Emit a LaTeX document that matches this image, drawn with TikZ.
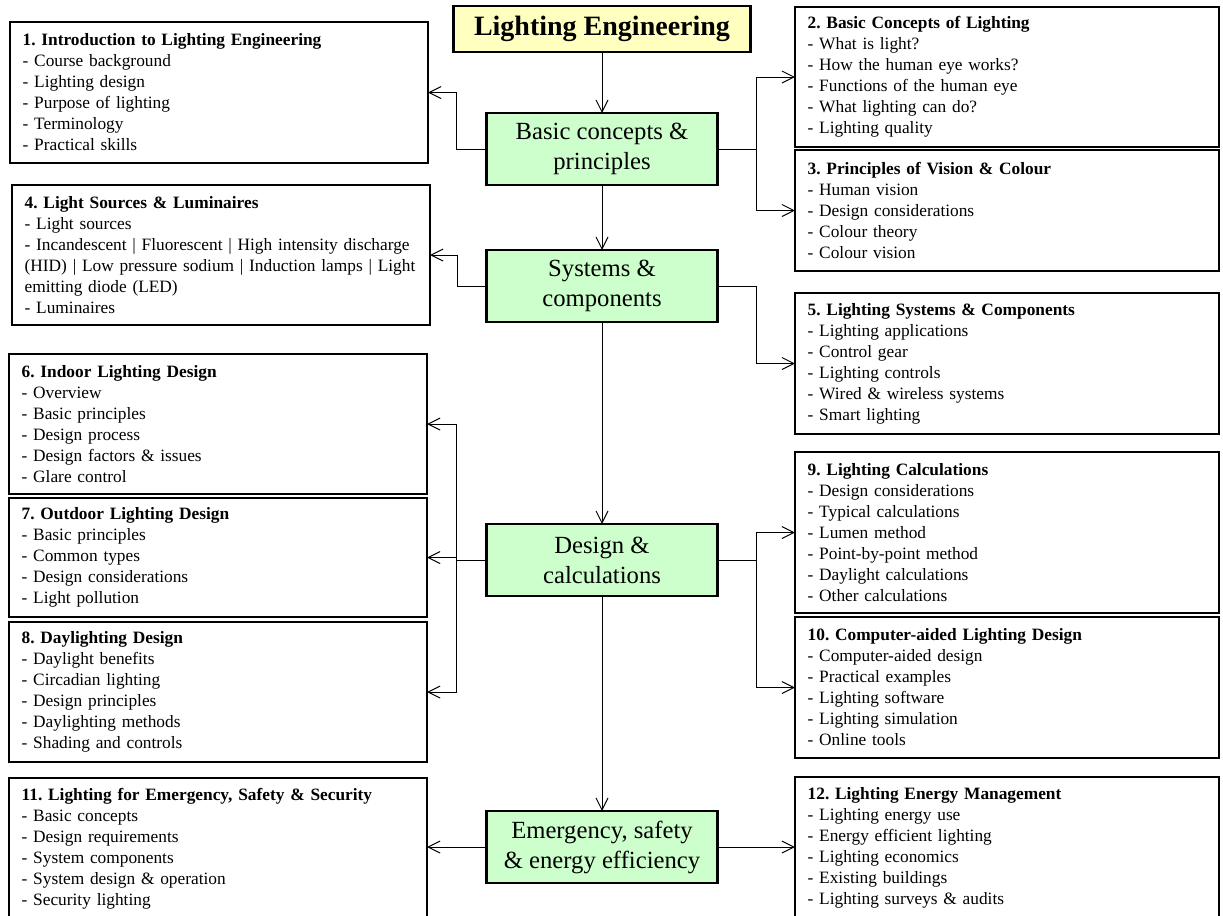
\documentclass[tikz,border=0pt]{standalone}
\usepackage{fontspec}
\setmainfont{Liberation Serif}
\usepackage{tikz}
\usetikzlibrary{positioning, arrows.meta}
\definecolor{titleyellow}{HTML}{FFFFC0}
\definecolor{topicgreen}{HTML}{CCFFCC}
\frenchspacing
\tikzset{
	maintitle/.style={draw, line width=2pt, outer sep=0pt, fill=titleyellow, minimum width=222.75pt, minimum height=34.5pt, font=\bfseries\fontsize{21}{25}\selectfont},
	topic/.style={draw, line width=2pt, outer sep=0pt, fill=topicgreen, align=center, minimum width=173.25pt, minimum height=54pt, font=\fontsize{18.5}{22.5}\selectfont},
	chapter/.style={draw, line width=2pt, outer sep=0pt, anchor=north west, align=left, inner xsep=9.5pt, inner ysep=3pt, text width=294.5pt, minimum height=#1*0.75pt, font=\fontsize{13}{15.75}\selectfont\frenchspacing},
	rchapter/.style={chapter=#1, text width=299pt},
	arr/.style={-{Straight Barb[length=9pt,width=9pt]}, line width=0.75pt}
}
\begin{document}
\begin{tikzpicture}[x=0.75pt, y=-0.75pt]
	\useasboundingbox (0,0) rectangle (1223,915);
	\node[maintitle] (title) at (602,29) {Lighting Engineering};
	\node[topic, below=45.75pt of title] (basic) {Basic concepts \&\\principles};
	\node[topic, below=48.75pt of basic] (sys) {Systems \&\\components};
	\node[topic, below=151.5pt of sys] (design) {Design \&\\calculations};
	\node[topic, below=161.25pt of design] (emerg) {Emergency, safety\\\& energy efficiency};

	\node[chapter=141] (c1) at (10,22) {\textbf{1. Introduction to Lighting Engineering}\\- Course background\\- Lighting design\\- Purpose of lighting\\- Terminology\\- Practical skills};
	\node[rchapter=140] (c2) at (795,7) {\textbf{2. Basic Concepts of Lighting}\\- What is light?\\- How the human eye works?\\- Functions of the human eye\\- What lighting can do?\\- Lighting quality};
	\node[rchapter=121] (c3) at (795,150) {\textbf{3. Principles of Vision \& Colour}\\- Human vision\\- Design considerations\\- Colour theory\\- Colour vision};
	\node[chapter=140] (c4) at (12,185) {\textbf{4. Light Sources \& Luminaires}\\- Light sources\\- Incandescent | Fluorescent | High intensity discharge\\(HID) | Low pressure sodium | Induction lamps | Light\\emitting diode (LED)\\- Luminaires};
	\node[rchapter=141] (c5) at (795,293) {\textbf{5. Lighting Systems \& Components}\\- Lighting applications\\- Control gear\\- Lighting controls\\- Wired \& wireless systems\\- Smart lighting};
	\node[chapter=140] (c6) at (9,354) {\textbf{6. Indoor Lighting Design}\\- Overview\\- Basic principles\\- Design process\\- Design factors \& issues\\- Glare control};
	\node[chapter=119] (c7) at (9,498) {\textbf{7. Outdoor Lighting Design}\\- Basic principles\\- Common types\\- Design considerations\\- Light pollution};
	\node[chapter=140] (c8) at (9,622) {\textbf{8. Daylighting Design}\\- Daylight benefits\\- Circadian lighting\\- Design principles\\- Daylighting methods\\- Shading and controls};
	\node[rchapter=161] (c9) at (795,452) {\textbf{9. Lighting Calculations}\\- Design considerations\\- Typical calculations\\- Lumen method\\- Point-by-point method\\- Daylight calculations\\- Other calculations};
	\node[rchapter=141] (c10) at (795,617) {\textbf{10. Computer-aided Lighting Design}\\- Computer-aided design\\- Practical examples\\- Lighting software\\- Lighting simulation\\- Online tools};
	\node[chapter=141] (c11) at (9,778) {\textbf{11. Lighting for Emergency, Safety \& Security}\\- Basic concepts\\- Design requirements\\- System components\\- System design \& operation\\- Security lighting};
	\node[rchapter=141] (c12) at (795,777) {\textbf{12. Lighting Energy Management}\\- Lighting energy use\\- Energy efficient lighting\\- Lighting economics\\- Existing buildings\\- Lighting surveys \& audits};

	\draw[arr] (title) -- (basic);
	\draw[arr] (basic) -- (sys);
	\draw[arr] (sys) -- (design);
	\draw[arr] (design) -- (emerg);
	\draw[arr] (basic.west) -- ++(-30,0) |- (c1.east);
	\draw[arr] (basic.east) -- ++(39,0) |- (c2.west);
	\draw[arr] (basic.east) -- ++(39,0) |- (c3.west);
	\draw[arr] (sys.west) -- ++(-29,0) |- (c4.east);
	\draw[arr] (sys.east) -- ++(39,0) |- (c5.west);
	\draw[arr] (design.west) -- ++(-30,0) |- (c6.east);
	\draw[arr] (design.west) -- ++(-30,0) |- (c7.east);
	\draw[arr] (design.west) -- ++(-30,0) |- (c8.east);
	\draw[arr] (design.east) -- ++(39,0) |- (c9.west);
	\draw[arr] (design.east) -- ++(39,0) |- (c10.west);
	\draw[arr] (emerg.west) -- (emerg.west -| c11.east);
	\draw[arr] (emerg.east) -- (emerg.east -| c12.west);
\end{tikzpicture}
\end{document}
